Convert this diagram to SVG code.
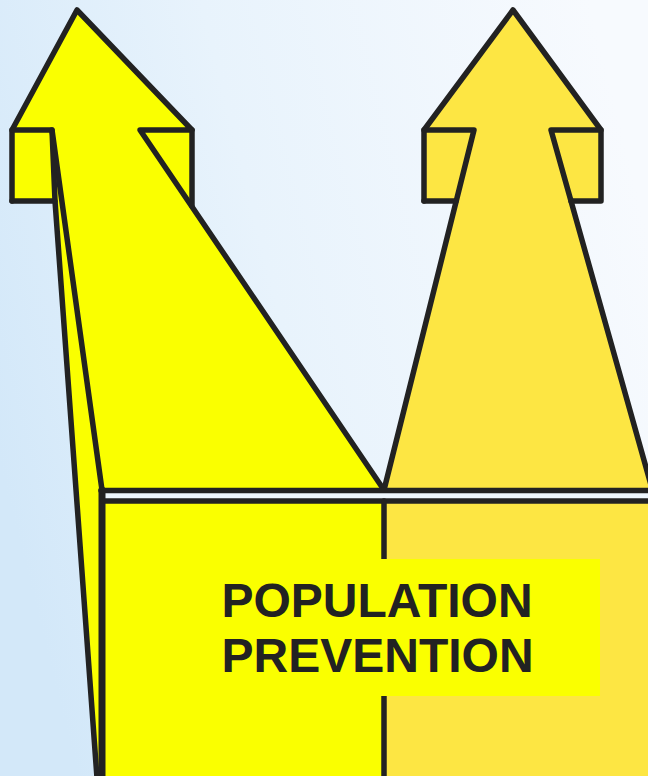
<svg xmlns="http://www.w3.org/2000/svg" width="648" height="776" viewBox="0 0 648 776">
  <defs>
    <linearGradient id="bg" x1="0" y1="0.6" x2="1" y2="0.3">
      <stop offset="0" stop-color="#D3E8F9"/>
      <stop offset="0.45" stop-color="#E8F3FC"/>
      <stop offset="1" stop-color="#F7FAFE"/>
    </linearGradient>
    <style>
      .ln { fill: none; stroke: #222222; stroke-width: 5.5; stroke-linejoin: round; stroke-linecap: round; }
      .thick { stroke-width: 7; }
      .ya { fill: #FAFF00; }
      .yb { fill: #FDE643; }
      .lbl { font-family: "Liberation Sans", Arial, sans-serif; font-weight: bold; font-size: 48px; fill: #222222; }
    </style>
  </defs>
  <rect x="0" y="0" width="648" height="776" fill="url(#bg)"/>

  <g id="left-arrow">
    <polygon class="ya" points="12,130 77,10 192,130 192,206 384,490 103,490 103,776 97,776 55,201 12,201"/>
  </g>
  <g id="right-arrow">
    <polygon class="yb" points="424,130 513,10 601,130 601,201 571,201 648,476 648,490 384,490 456,201 424,201"/>
  </g>
  <g id="band">
    <rect x="103" y="490" width="545" height="11" fill="#EEF6FD"/>
  </g>
  <g id="front-left">
    <rect class="ya" x="103" y="501" width="281" height="275"/>
  </g>
  <g id="front-right">
    <rect class="yb" x="384" y="501" width="264" height="275"/>
  </g>

  <g id="connectors">
    <path class="ln" d="M12,201 L12,130 L77,10 L192,130 L140,130 L384,490"/>
    <path class="ln" d="M192,130 L192,206"/>
    <path class="ln" d="M12,130 L52,130 L102,490"/>
    <path class="ln thick" d="M102,490 L102,778"/>
    <path class="ln" d="M12,201 L55,201 L97,778"/>
    <path class="ln" d="M52,130 L55,201"/>
    <path class="ln" d="M424,201 L424,130 L513,10 L601,130 L601,201 L571,201"/>
    <path class="ln" d="M424,130 L474,130 L384,490"/>
    <path class="ln" d="M601,130 L551,130 L660,517"/>
    <path class="ln" d="M424,201 L456,201"/>
    <path class="ln" d="M101,490.5 L650,490.5"/>
    <path class="ln" d="M103,501 L650,501"/>
    <path class="ln" d="M384,501 L384,778"/>
  </g>

  <g id="label">
    <rect class="ya" x="200" y="559" width="400" height="137"/>
    <text class="lbl" x="221.5" y="616.5">POPULATION</text>
    <text class="lbl" x="221.5" y="671.5">PREVENTION</text>
  </g>
</svg>
